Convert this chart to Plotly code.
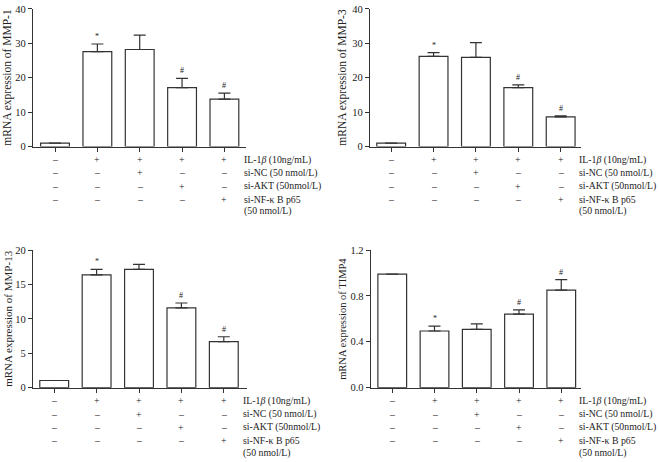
import plotly.graph_objects as go

W, H = 659, 462

# ---- data ----
positions = [0, 1, 2, 3, 4]
mmp1_vals = [1.0, 27.6, 28.2, 17.1, 13.8]
mmp1_err = [0, 2.2, 4.2, 2.7, 1.7]
mmp3_vals = [1.0, 26.2, 25.9, 17.1, 8.6]
mmp3_err = [0, 1.1, 4.3, 0.8, 0.3]
mmp13_vals = [1.04, 16.4, 17.2, 11.6, 6.7]
mmp13_err = [0, 0.8, 0.7, 0.7, 0.7]
timp4_vals = [0.99, 0.494, 0.508, 0.641, 0.851]
timp4_err = [0, 0.042, 0.048, 0.037, 0.091]
sig_marks = ["", "*", "", "#", "#"]

il1b_row = ["–", "+", "+", "+", "+"]
sinc_row = ["–", "–", "+", "–", "–"]
siakt_row = ["–", "–", "–", "+", "–"]
sinf_row = ["–", "–", "–", "–", "+"]
row_labels = ["IL-1<i>β</i> (10ng/mL)", "si-NC (50 nmol/L)", "si-AKT (50nmol/L)",
              "si-NF-κ B p65"]
row_label_cont = "(50 nmol/L)"

y_titles = ["mRNA expression of MMP-1", "mRNA expression of MMP-3",
            "mRNA expression of MMP-13", "mRNA expression of TIMP4"]
y_ticks = [[0, 10, 20, 30, 40], [0, 10, 20, 30, 40], [0, 5, 10, 15, 20], [0.0, 0.4, 0.8, 1.2]]
y_ticktext = [["0", "10", "20", "30", "40"], ["0", "10", "20", "30", "40"],
              ["0", "5", "10", "15", "20"], ["0.0", "0.4", "0.8", "1.2"]]
y_ranges = [[0, 40], [0, 40], [0, 20], [0, 1.2]]

# ---- layout geometry (pixels) ----
panels = [
    dict(x0=33, x1=246, xr=[-0.52, 4.51], ytop=4, ybot=145, lab_x=242, title_x=8, tsize=11.5),
    dict(x0=370, x1=581, xr=[-0.50, 4.48], ytop=4, ybot=145, lab_x=577, title_x=343, tsize=11.5),
    dict(x0=33, x1=246.7, xr=[-0.50, 4.54], ytop=251, ybot=392, lab_x=241, title_x=8, tsize=11),
    dict(x0=370.7, x1=580.7, xr=[-0.51, 4.46], ytop=251, ybot=392, lab_x=577, title_x=343, tsize=10.5),
]
vals = [mmp1_vals, mmp3_vals, mmp13_vals, timp4_vals]
errs = [mmp1_err, mmp3_err, mmp13_err, timp4_err]
rows = [il1b_row, sinc_row, siakt_row, sinf_row]
row_offsets = [13.5, 27, 40.5, 54]
cont_offset = 66.5

FONT = "Liberation Serif"
TXT = "#222222"
LINE = "#333333"
LAB_SIZE = 9.8

def px(x):
    return x / W

def py(y):
    return 1 - y / H

fig = go.Figure()
annotations = []
layout = {}

for i, p in enumerate(panels):
    n = "" if i == 0 else str(i + 1)
    xa, ya = "x" + n, "y" + n
    fig.add_trace(go.Bar(
        x=positions, y=vals[i], width=0.68,
        marker=dict(color="white", line=dict(color=LINE, width=1.2)),
        error_y=dict(type="data", symmetric=False, array=errs[i],
                     arrayminus=[0] * 5, color=LINE, thickness=1.2, width=6),
        xaxis=xa, yaxis=ya, showlegend=False, hoverinfo="skip",
    ))
    layout["xaxis" + n] = dict(
        domain=[px(p["x0"]), px(p["x1"])], range=p["xr"], anchor=ya,
        showgrid=False, zeroline=False, showline=True, linecolor=LINE, linewidth=1.2,
        ticks="outside", ticklen=4, tickcolor=LINE, tickvals=positions,
        showticklabels=False, fixedrange=True,
    )
    layout["yaxis" + n] = dict(
        domain=[py(p["ybot"]), py(p["ytop"])], range=y_ranges[i], anchor=xa,
        showgrid=False, zeroline=False, showline=True, linecolor=LINE, linewidth=1.2,
        ticks="outside", ticklen=4, tickcolor=LINE,
        tickvals=y_ticks[i], ticktext=y_ticktext[i],
        tickfont=dict(family=FONT, size=10.5, color=TXT), fixedrange=True,
    )
    # y title
    annotations.append(dict(
        text=y_titles[i], textangle=-90, xref="paper", yref="paper",
        x=px(p["title_x"]), y=py((p["ytop"] + p["ybot"]) / 2),
        xanchor="center", yanchor="middle", showarrow=False,
        font=dict(family=FONT, size=p["tsize"], color=TXT),
    ))
    # significance marks
    for j, m in enumerate(sig_marks):
        if m:
            annotations.append(dict(
                text=m, xref=xa, yref=ya, x=positions[j], y=vals[i][j] + errs[i][j],
                xanchor="center", yanchor="bottom", yshift=1, showarrow=False,
                font=dict(family=FONT, size=8, color=TXT),
            ))
    # condition rows
    for r, row in enumerate(rows):
        yy = py(p["ybot"] + row_offsets[r])
        for j, s in enumerate(row):
            annotations.append(dict(
                text=s, xref=xa, yref="paper", x=positions[j], y=yy,
                xanchor="center", yanchor="middle", showarrow=False,
                font=dict(family=FONT, size=LAB_SIZE, color=TXT),
            ))
        annotations.append(dict(
            text=row_labels[r], xref="paper", yref="paper", x=px(p["lab_x"]), y=yy,
            xanchor="left", yanchor="middle", showarrow=False,
            font=dict(family=FONT, size=LAB_SIZE, color=TXT),
        ))
    annotations.append(dict(
        text=row_label_cont, xref="paper", yref="paper", x=px(p["lab_x"]),
        y=py(p["ybot"] + cont_offset),
        xanchor="left", yanchor="middle", showarrow=False,
        font=dict(family=FONT, size=LAB_SIZE, color=TXT),
    ))

fig.update_layout(
    width=W, height=H, margin=dict(l=0, r=0, t=0, b=0),
    paper_bgcolor="white", plot_bgcolor="white",
    annotations=annotations, **layout,
)

fig.write_html("out.html", config={"displayModeBar": False},
               post_script="document.body.style.margin='0';document.body.style.overflow='hidden';")
